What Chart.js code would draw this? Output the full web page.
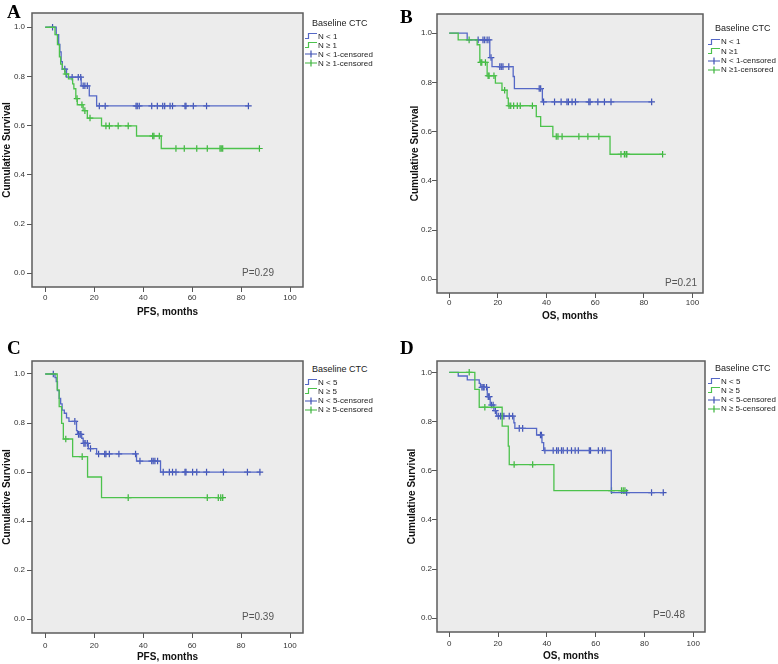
<!DOCTYPE html>
<html>
<head>
<meta charset="utf-8">
<script src="https://cdn.jsdelivr.net/npm/chart.js@4.4.0/dist/chart.umd.min.js"></script>
<style>
  body { margin: 0; background: #fff; width: 778px; height: 664px; position: relative; overflow: hidden;
         font-family: 'Liberation Sans', Arial, sans-serif; }
  canvas { position: absolute; }
  .letter { position: absolute; font: bold 19px 'Liberation Serif', 'Times New Roman', serif; line-height: 19px; color: #000; }
  .pval { position: absolute; font-size: 10px; line-height: 12px; color: #555; }
  .legtitle { position: absolute; font-size: 9px; line-height: 10px; color: #222; }
  .legitem { position: absolute; font-size: 8px; line-height: 9px; color: #222; display: flex; align-items: center; white-space: nowrap; }
  .legitem svg { margin-right: 1px; }
</style>
</head>
<body>
<script>
// Tick labels
const xTicks = [0, 20, 40, 60, 80, 100];
const yTicks = [0, 0.2, 0.4, 0.6, 0.8, 1.0];

// A: PFS, baseline CTC < 1 vs >= 1
const aLowT  = [0, 4.5, 5.5, 6, 6.5, 7, 8.7, 14.7, 18, 21, 83];
const aLowS  = [1, 0.97, 0.93, 0.90, 0.86, 0.83, 0.797, 0.762, 0.721, 0.68, 0.68];
const aLowC  = [3, 8, 11, 13.5, 14.5, 15.5, 16.2, 17.2, 22.1, 24.5, 37.1, 37.6, 38.4, 43.5, 45.8, 48.0, 48.8, 51.0, 52.0, 57.1, 57.5, 60.5, 65.9, 83];
const aHighT = [0, 4, 5, 5.8, 6.3, 7, 8, 9.5, 11.2, 11.7, 12.5, 13.1, 15.5, 17.2, 23, 37.3, 47.4, 87.5];
const aHighS = [1, 0.97, 0.93, 0.88, 0.85, 0.83, 0.81, 0.79, 0.77, 0.75, 0.71, 0.685, 0.661, 0.631, 0.599, 0.558, 0.507, 0.507];
const aHighC = [8.5, 13, 15, 16.2, 18.3, 24.8, 26.2, 29.8, 33.9, 43.9, 44.4, 46.6, 53.4, 56.8, 61.9, 66.2, 71.4, 71.9, 72.5, 87.5];

// B: OS, baseline CTC < 1 vs >= 1
const bLowT  = [0, 7.4, 16.7, 17.6, 26.3, 26.8, 38.3, 83.2];
const bLowS  = [1, 0.973, 0.901, 0.864, 0.824, 0.775, 0.721, 0.721];
const bLowC  = [11.9, 13.9, 14.6, 15.6, 16.4, 17.2, 20.8, 21.4, 22.1, 24.5, 37.0, 37.6, 38.8, 43.3, 46, 48.4, 49, 50.5, 51.9, 57.4, 57.9, 61.1, 63.8, 66.5, 83.2];
const bHighT = [0, 3.7, 11.5, 12.6, 15.6, 19, 21.7, 23.8, 24.3, 35.8, 37.6, 42.6, 66.1, 87.7];
const bHighS = [1, 0.973, 0.953, 0.881, 0.827, 0.797, 0.768, 0.736, 0.705, 0.661, 0.621, 0.580, 0.508, 0.508];
const bHighC = [8.2, 13.0, 13.4, 14.9, 16.0, 16.4, 18.4, 22.8, 24.6, 25.3, 26.5, 28, 29.2, 34.2, 44, 44.7, 46.4, 53.3, 57, 61.5, 70.6, 72, 72.7, 73, 87.7];

// C: PFS, baseline CTC < 5 vs >= 5
const cLowT  = [0, 4, 4.5, 5, 5.7, 6.3, 6.9, 7.8, 8.7, 9.7, 12.8, 13.2, 14.9, 15.5, 17.6, 21, 37.3, 47.1, 87.7];
const cLowS  = [1, 0.985, 0.969, 0.932, 0.901, 0.878, 0.853, 0.84, 0.821, 0.807, 0.769, 0.754, 0.738, 0.717, 0.696, 0.674, 0.645, 0.600, 0.600];
const cLowC  = [3.3, 12.1, 13.6, 14.2, 14.6, 15.8, 16.3, 17.2, 18.5, 21.8, 24.3, 24.8, 26.2, 30.1, 36.9, 38.7, 43.5, 44.1, 44.8, 45.9, 48.2, 50.7, 52, 53.4, 57.1, 57.5, 60.2, 61.9, 65.9, 72.8, 82.6, 87.7];
const cHighT = [0, 4.9, 5.7, 6.7, 7.4, 11.2, 17.3, 23, 72.5];
const cHighS = [1, 0.935, 0.867, 0.799, 0.735, 0.663, 0.580, 0.496, 0.496];
const cHighC = [8.4, 15.1, 33.9, 66.2, 70.7, 71.7, 72.5];

// D: OS, baseline CTC < 5 vs >= 5
const dLowT  = [0, 3.7, 7.4, 12.3, 12.8, 15.6, 16.8, 18.3, 19.4, 26.5, 26.9, 35.8, 38, 38.7, 66.4, 87.7];
const dLowS  = [1, 0.985, 0.969, 0.955, 0.939, 0.901, 0.867, 0.844, 0.822, 0.795, 0.772, 0.745, 0.714, 0.682, 0.511, 0.511];
const dLowC  = [13.4, 13.9, 14.3, 15.3, 16.0, 16.4, 17.3, 18.0, 18.9, 20.1, 21.0, 21.7, 22.4, 24.6, 26.0, 28.7, 30.1, 37.4, 37.8, 39.2, 42.6, 44, 44.7, 46, 46.7, 48.4, 50.1, 51.6, 52.9, 57.4, 57.9, 61.1, 62.8, 63.8, 72.7, 82.9, 87.7];
const dHighT = [0, 10.5, 12.3, 21.7, 24.2, 24.6, 42.9, 72.5];
const dHighS = [1, 0.931, 0.858, 0.781, 0.70, 0.625, 0.519, 0.519];
const dHighC = [8.2, 14.6, 26.6, 34.2, 66.5, 70.6, 71.3, 72];

// Legend labels
const legend1 = ['N < 1', 'N \u2265 1', 'N < 1-censored', 'N \u2265 1-censored'];
const legend1b = ['N < 1', 'N \u22651', 'N < 1-censored', 'N \u22651-censored'];
const legend5 = ['N < 5', 'N \u2265 5', 'N < 5-censored', 'N \u2265 5-censored'];

const BLUE = '#5568c6';
const BLUE_MARK = '#3f52b4';
const GREEN = '#4cc24c';
const GREEN_MARK = '#3cb43c';
const FONT = "'Liberation Sans', Arial, sans-serif";

const panels = [
  { letter: 'A', left: 0, top: 0, w: 310, h: 330, box: { l: 32, t: 13, r: 303, b: 287 },
    x: [-5.4, 105.3], y: [-0.056, 1.058], xTitle: 'PFS, months', xTitlePad: 12, yTitlePad: 1, xTickPad: 1, yTickPad: 2,
    low: [aLowT, aLowS, aLowC], high: [aHighT, aHighS, aHighC], labels: legend1,
    letterPos: [7, 1.7], pPos: [242, 267], pText: 'P=0.29', leg: [305, 18, 36, 9.1] },
  { letter: 'B', left: 390, top: 0, w: 320, h: 330, box: { l: 437, t: 14, r: 703, b: 293 },
    x: [-5.0, 104.3], y: [-0.056, 1.078], xTitle: 'OS, months', xTitlePad: 8, yTitlePad: 19, xTickPad: 0, yTickPad: 0,
    low: [bLowT, bLowS, bLowC], high: [bHighT, bHighS, bHighC], labels: legend1b,
    letterPos: [400, 6.7], pPos: [665, 277], pText: 'P=0.21', leg: [708, 23, 41.7, 9.4] },
  { letter: 'C', left: 0, top: 330, w: 310, h: 334, box: { l: 32, t: 361, r: 303, b: 633 },
    x: [-5.4, 105.3], y: [-0.056, 1.053], xTitle: 'PFS, months', xTitlePad: 1, yTitlePad: 1, xTickPad: 3, yTickPad: 2,
    low: [cLowT, cLowS, cLowC], high: [cHighT, cHighS, cHighC], labels: legend5,
    letterPos: [7, 338.4], pPos: [242, 611], pText: 'P=0.39', leg: [305, 364, 382, 9.3] },
  { letter: 'D', left: 390, top: 330, w: 322, h: 334, box: { l: 437, t: 361, r: 705, b: 632 },
    x: [-5.0, 104.8], y: [-0.056, 1.046], xTitle: 'OS, months', xTitlePad: 2, yTitlePad: 16, xTickPad: 2, yTickPad: 0,
    low: [dLowT, dLowS, dLowC], high: [dHighT, dHighS, dHighC], labels: legend5,
    letterPos: [400, 338.4], pPos: [653, 609], pText: 'P=0.48', leg: [708, 363, 381, 9.3] }
];

function survAt(times, surv, t) {
  let v = surv[0];
  for (let i = 0; i < times.length; i++) if (times[i] <= t) v = surv[i];
  return v;
}

const plotBox = {
  id: 'plotBox',
  beforeDraw(chart) {
    const { ctx, chartArea: a } = chart;
    ctx.save();
    ctx.fillStyle = '#ececec';
    ctx.fillRect(a.left, a.top, a.width, a.height);
    ctx.restore();
  },
  afterDraw(chart) {
    const { ctx, chartArea: a } = chart;
    ctx.save();
    ctx.strokeStyle = '#5c5c5c';
    ctx.lineWidth = 1.5;
    ctx.strokeRect(a.left, a.top, a.width, a.height);
    ctx.restore();
  }
};

function stepIcon(color) {
  return `<svg width="12" height="8"><path d="M0 6.5 H3.5 V1.5 H12" fill="none" stroke="${color}" stroke-width="1.2"/></svg>`;
}
function censIcon(color) {
  return `<svg width="12" height="8"><path d="M0 4 H12 M6 0.5 V7.5" fill="none" stroke="${color}" stroke-width="1.2"/></svg>`;
}

function addDiv(cls, html, left, top) {
  const d = document.createElement('div');
  d.className = cls;
  d.innerHTML = html;
  d.style.left = left + 'px';
  d.style.top = top + 'px';
  document.body.appendChild(d);
  return d;
}

panels.forEach(p => {
  const canvas = document.createElement('canvas');
  canvas.width = p.w;
  canvas.height = p.h;
  canvas.style.left = p.left + 'px';
  canvas.style.top = p.top + 'px';
  document.body.appendChild(canvas);

  const yAxisW = p.box.l - p.left;
  const xAxisH = p.top + p.h - p.box.b;

  const [lt, ls, lc] = p.low;
  const [ht, hs, hc] = p.high;

  new Chart(canvas.getContext('2d'), {
    type: 'scatter',
    data: {
      datasets: [
        { label: p.labels[1], data: ht.map((t, i) => ({ x: t, y: hs[i] })), showLine: true, stepped: true,
          borderColor: GREEN, borderWidth: 1.3, pointRadius: 0, fill: false },
        { label: p.labels[0], data: lt.map((t, i) => ({ x: t, y: ls[i] })), showLine: true, stepped: true,
          borderColor: BLUE, borderWidth: 1.3, pointRadius: 0, fill: false },
        { label: p.labels[3], data: hc.map(t => ({ x: t, y: survAt(ht, hs, t) })), showLine: false,
          pointStyle: 'cross', pointRadius: 3.3, pointBorderWidth: 1.2, borderColor: GREEN_MARK, backgroundColor: GREEN_MARK },
        { label: p.labels[2], data: lc.map(t => ({ x: t, y: survAt(lt, ls, t) })), showLine: false,
          pointStyle: 'cross', pointRadius: 3.3, pointBorderWidth: 1.2, borderColor: BLUE_MARK, backgroundColor: BLUE_MARK }
      ]
    },
    options: {
      responsive: false,
      animation: false,
      devicePixelRatio: 1,
      layout: { padding: { left: 0, top: p.box.t - p.top, right: p.left + p.w - p.box.r, bottom: 0 } },
      plugins: { legend: { display: false }, tooltip: { enabled: false } },
      scales: {
        x: {
          type: 'linear', min: p.x[0], max: p.x[1],
          afterBuildTicks: s => { s.ticks = xTicks.map(v => ({ value: v })); },
          afterFit: s => { s.height = xAxisH; },
          grid: { drawOnChartArea: false, drawTicks: true, tickLength: 5, color: '#555' },
          border: { display: false },
          ticks: { font: { family: FONT, size: 8 }, color: '#333', padding: p.xTickPad, maxRotation: 0, autoSkip: false,
                   callback: v => String(v) },
          title: { display: true, text: p.xTitle, color: '#111', font: { family: FONT, size: 10, weight: 'bold' },
                   padding: { top: 0, bottom: p.xTitlePad } }
        },
        y: {
          type: 'linear', min: p.y[0], max: p.y[1],
          afterBuildTicks: s => { s.ticks = yTicks.map(v => ({ value: v })); },
          afterFit: s => { s.width = yAxisW; },
          grid: { drawOnChartArea: false, drawTicks: true, tickLength: 5, color: '#555' },
          border: { display: false },
          ticks: { font: { family: FONT, size: 8 }, color: '#333', padding: p.yTickPad, autoSkip: false,
                   callback: v => v.toFixed(1) },
          title: { display: true, text: 'Cumulative Survival', color: '#111', font: { family: FONT, size: 10, weight: 'bold' },
                   padding: { top: p.yTitlePad, bottom: 0 } }
        }
      }
    },
    plugins: [plotBox]
  });

  addDiv('letter', p.letter, p.letterPos[0], p.letterPos[1]);
  addDiv('pval', p.pText, p.pPos[0], p.pPos[1]);

  const [lx, titleY, itemY, gap] = p.leg;
  addDiv('legtitle', 'Baseline CTC', lx + 7, titleY);
  const icons = [stepIcon(BLUE), stepIcon(GREEN), censIcon(BLUE_MARK), censIcon(GREEN_MARK)];
  p.labels.forEach((lab, i) => {
    addDiv('legitem', icons[i] + '<span>' + lab + '</span>', lx, itemY + i * gap - 4.5);
  });
});
</script>
</body>
</html>
